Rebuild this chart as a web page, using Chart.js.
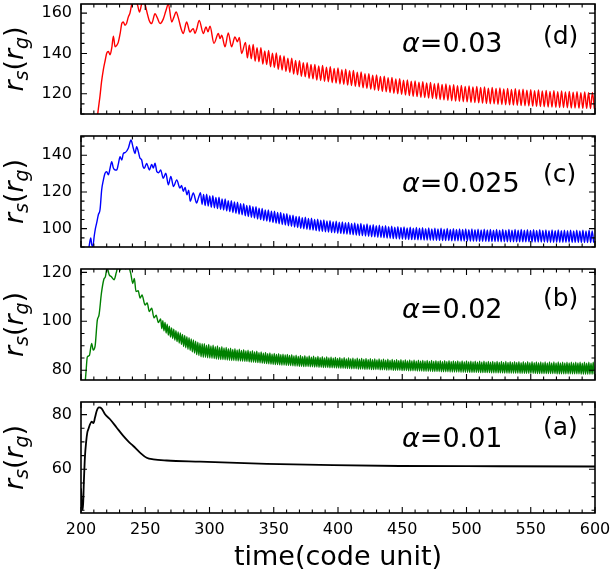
<!DOCTYPE html>
<html>
<head>
<meta charset="utf-8">
<script src="https://cdn.jsdelivr.net/npm/chart.js@4.4.1/dist/chart.umd.min.js"></script>
<style>
  html, body { margin: 0; padding: 0; background: #fff; }
  #wrap { position: relative; width: 610px; height: 573px; }
  #wrap canvas { position: absolute; left: 0; top: 0; }
</style>
</head>
<body>
<div id="wrap">
  <canvas id="panel-d" width="610" height="573"></canvas>
  <canvas id="panel-c" width="610" height="573"></canvas>
  <canvas id="panel-b" width="610" height="573"></canvas>
  <canvas id="panel-a" width="610" height="573"></canvas>
</div>
<script>
// shared time axis
const timeTicks = [200, 250, 300, 350, 400, 450, 500, 550, 600];

// (d) alpha = 0.03 : irregular rise, then regular oscillation (peak / trough per cycle)
const redRise = [
  [212, 104], [213.2, 111], [214.8, 119], [216, 126], [217.4, 132], [218.8, 136.5], [220, 140.1], [221.3, 141],
  [222.6, 139.3], [224, 143], [225.2, 148.6], [226.5, 143.3], [227.8, 144], [229, 145.5], [230.5, 150], [231.8, 155],
  [232.9, 155.6], [234.2, 154], [235.5, 155], [236.8, 158], [238.1, 160], [239.4, 164], [241, 167], [242.5, 166],
  [244, 164], [245.5, 160.5], [247, 164], [248.5, 167], [250, 164], [251.5, 160], [253, 156.5], [255, 154.8],
  [257.6, 159.7], [259.5, 157.5], [261.5, 154.8], [264, 157], [266, 161], [268, 164.5], [270.6, 155.6], [272.3, 158],
  [274, 160.5], [276, 157], [277.8, 152.5], [279.6, 149.9], [282.2, 155.6], [284.8, 150.6], [286, 151.5], [287.4, 152.3],
  [288.7, 149.9], [290, 152], [292, 156.4], [295.2, 149.9], [297.3, 153.1], [298.8, 150.7], [300.4, 153.5], [303.5, 145],
  [306.9, 149.9], [308.2, 147.4], [309.5, 149], [312.1, 143.3], [314.6, 150.2], [317.2, 143.3], [319.8, 148.2],
  [321.7, 145.8], [323.2, 147.9], [325, 140]
];
const redStart = 328;
const redPeriod = 3.0;
const redPeaks = [
  145.5, 144.2, 144.4, 142.9, 142.8, 141.3, 141.5, 140.1, 140.2, 139.0,
  138.8, 137.7, 137.6, 136.5, 136.4, 135.4, 135.4, 134.5, 134.6, 133.8,
  134.0, 133.2, 133.4, 132.6, 132.8, 132.0, 132.2, 131.4, 131.6, 130.7,
  130.8, 130.0, 130.0, 129.2, 129.3, 128.6, 128.7, 128.0, 128.1, 127.4,
  127.5, 126.8, 126.9, 126.3, 126.4, 125.8, 126.0, 125.4, 125.6, 125.0,
  125.2, 124.7, 124.9, 124.3, 124.5, 124.0, 124.2, 123.7, 123.9, 123.4,
  123.7, 123.1, 123.4, 122.8, 123.1, 122.6, 122.9, 122.4, 122.7, 122.2,
  122.5, 122.0, 122.3, 121.8, 122.1, 121.6, 121.9, 121.4, 121.7, 121.2,
  121.5, 121.1, 121.4, 120.9, 121.2, 120.8, 121.1, 120.6, 120.9, 120.5, 120.7
];
const redTroughs = [
  137.8, 137.3, 136.2, 135.9, 134.8, 134.5, 133.4, 133.1, 132.2, 131.8,
  131.1, 130.6, 129.8, 129.4, 128.7, 128.4, 127.7, 127.4, 126.8, 126.6,
  126.2, 126.0, 125.5, 125.3, 124.9, 124.7, 124.3, 124.1, 123.7, 123.5,
  123.0, 122.7, 122.3, 121.9, 121.6, 121.2, 121.0, 120.6, 120.3, 120.0,
  119.7, 119.4, 119.1, 118.8, 118.6, 118.3, 118.1, 117.9, 117.7, 117.5,
  117.2, 117.0, 116.8, 116.6, 116.4, 116.3, 116.1, 116.0, 115.8, 115.7,
  115.5, 115.4, 115.2, 115.1, 115.0, 114.8, 114.7, 114.6, 114.5, 114.4,
  114.3, 114.2, 114.1, 114.0, 113.9, 113.8, 113.7, 113.6, 113.5, 113.4,
  113.3, 113.2, 113.2, 113.1, 113.0, 113.0, 112.9, 112.8, 112.8, 112.7, 112.7
];
const redTicks = [120, 140, 160];

// (c) alpha = 0.025
const blueRise = [
  [205.8, 88], [206.8, 92.5], [207.6, 95], [208.3, 91.5], [209.2, 90.3], [210.3, 96], [211.2, 100], [212.2, 103.1],
  [213.5, 107.6], [214.8, 110.3], [216.1, 121.2], [217.4, 126.5], [218.7, 130.2], [220, 131.1], [221.3, 129.3],
  [222.5, 132.5], [223.9, 136.5], [225.2, 133], [226.5, 132], [227.8, 132], [229, 135], [230.4, 139.2], [231.7, 137.4],
  [233, 141], [234.5, 141.5], [236.8, 143.8], [238.9, 148.3], [240.7, 143.8], [242, 141], [243.3, 144.7], [244.6, 142],
  [245.9, 138.4], [247.2, 137.5], [248.2, 134], [249.3, 132.9], [251.1, 135.6], [253.2, 132], [255, 135], [256.3, 133],
  [257.6, 135.7], [259, 131.1], [260.5, 130.5], [262, 132], [264, 127.5], [266, 130.2], [268, 123.9], [269.9, 128.4],
  [272, 123], [274.5, 126.6], [277, 122.1], [278.3, 123.5], [279.6, 120.3], [281, 122.5], [282.5, 118.5], [283.8, 121],
  [285, 114.9], [287.4, 119.4], [290, 114], [291.5, 117]
];
const blueStart = 293;
const bluePeriod = 2.4;
const bluePeaks = [
  119.6, 118.7, 118.8, 117.8, 117.9, 117.0, 117.1, 116.2, 116.2, 115.3,
  115.3, 114.5, 114.4, 113.6, 113.6, 112.7, 112.7, 111.9, 111.9, 111.1,
  111.0, 110.2, 110.2, 109.5, 109.5, 108.8, 108.8, 108.1, 108.1, 107.4,
  107.4, 106.7, 106.7, 106.0, 106.2, 105.5, 105.7, 105.0, 105.2, 104.6,
  104.8, 104.2, 104.4, 103.8, 104.1, 103.5, 103.7, 103.2, 103.4, 102.8,
  103.1, 102.5, 102.8, 102.2, 102.5, 101.9, 102.2, 101.6, 101.9, 101.3,
  101.6, 101.1, 101.4, 100.8, 101.1, 100.6, 100.9, 100.4, 100.8, 100.3,
  100.6, 100.2, 100.5, 100.0, 100.4, 99.9, 100.3, 99.8, 100.2, 99.7,
  100.1, 99.6, 100.0, 99.6, 99.9, 99.5, 99.9, 99.4, 99.8, 99.4,
  99.7, 99.3, 99.7, 99.3, 99.6, 99.2, 99.6, 99.2, 99.6, 99.2,
  99.5, 99.1, 99.5, 99.1, 99.5, 99.1, 99.4, 99.0, 99.4, 99.0,
  99.4, 99.0, 99.3, 98.9, 99.3, 98.9, 99.3, 98.9, 99.2, 98.9,
  99.2, 98.8, 99.2, 98.8, 99.1, 98.8, 99.1, 98.8
];
const blueTroughs = [
  113.2, 112.6, 112.3, 111.7, 111.4, 110.9, 110.6, 110.1, 109.7, 109.3,
  108.8, 108.4, 107.9, 107.5, 107.0, 106.6, 106.2, 105.8, 105.3, 104.9,
  104.4, 104.1, 103.7, 103.4, 103.0, 102.7, 102.3, 102.0, 101.6, 101.3,
  100.9, 100.6, 100.2, 99.9, 99.7, 99.4, 99.2, 98.9, 98.7, 98.5,
  98.3, 98.1, 97.9, 97.7, 97.5, 97.4, 97.2, 97.0, 96.9, 96.7,
  96.5, 96.3, 96.2, 96.0, 95.8, 95.6, 95.5, 95.3, 95.2, 95.0,
  94.9, 94.8, 94.6, 94.5, 94.4, 94.3, 94.2, 94.1, 94.0, 94.0,
  93.9, 93.9, 93.8, 93.8, 93.7, 93.7, 93.6, 93.6, 93.5, 93.5,
  93.5, 93.4, 93.4, 93.4, 93.3, 93.3, 93.3, 93.2, 93.2, 93.2,
  93.1, 93.1, 93.1, 93.0, 93.0, 93.0, 93.0, 92.9, 92.9, 92.9,
  92.9, 92.9, 92.8, 92.8, 92.8, 92.8, 92.8, 92.7, 92.7, 92.7,
  92.7, 92.7, 92.6, 92.6, 92.6, 92.6, 92.6, 92.6, 92.5, 92.5,
  92.5, 92.5, 92.5, 92.5, 92.4, 92.4, 92.4, 92.4
];
const blueTicks = [100, 120, 140];

// (b) alpha = 0.02
const greenRise = [
  [202.5, 70], [204, 80], [204.9, 85.4], [206.5, 86], [208.3, 91], [209.5, 88.3], [211, 90], [212.7, 100.5],
  [214, 102.5], [215.9, 111.5], [217.7, 117], [219, 118.3], [220.3, 121.8], [222, 119], [223.5, 118.3], [225.7, 117],
  [227.5, 120], [228.8, 122.5], [230.5, 121], [232, 122.5], [234.8, 121.5], [236.8, 122.5], [238.7, 119.6],
  [240.3, 115.5], [241.5, 117.5], [242.8, 112.2], [244.5, 112.5], [246, 109.5], [247.5, 110.8], [249.8, 106.7],
  [251.5, 107.5], [253.2, 104], [255, 105.4], [256.8, 101.4], [258.5, 102.5], [260.2, 99.5]
];
const greenStart = 262;
const greenPeriod = 1.7;
const greenPeaks = [
  101.0, 100.3, 99.5, 98.8, 98.0, 97.3, 96.8, 96.2, 95.7, 95.2,
  94.6, 94.2, 93.7, 93.3, 92.8, 92.4, 91.9, 91.5, 91.1, 90.8,
  90.8, 90.2, 90.5, 89.9, 90.2, 89.6, 89.9, 89.3, 89.6, 89.1,
  89.3, 88.8, 89.0, 88.5, 88.8, 88.3, 88.6, 88.1, 88.4, 87.9,
  88.2, 87.7, 88.0, 87.5, 87.8, 87.2, 87.5, 87.0, 87.3, 86.8,
  87.1, 86.6, 86.9, 86.5, 86.8, 86.3, 86.6, 86.2, 86.5, 86.0,
  86.3, 85.8, 86.1, 85.6, 86.0, 85.5, 85.9, 85.4, 85.8, 85.3,
  85.7, 85.2, 85.6, 85.1, 85.5, 85.0, 85.4, 85.0, 85.3, 84.9,
  85.2, 84.8, 85.1, 84.7, 85.1, 84.6, 85.0, 84.6, 84.9, 84.5,
  84.9, 84.5, 84.8, 84.4, 84.8, 84.3, 84.7, 84.3, 84.6, 84.2,
  84.6, 84.2, 84.5, 84.1, 84.5, 84.0, 84.4, 84.0, 84.3, 83.9,
  84.3, 83.9, 84.2, 83.8, 84.2, 83.8, 84.1, 83.7, 84.1, 83.7,
  84.0, 83.7, 84.0, 83.6, 84.0, 83.6, 83.9, 83.6, 83.9, 83.5,
  83.9, 83.5, 83.9, 83.5, 83.8, 83.5, 83.8, 83.4, 83.8, 83.4,
  83.8, 83.4, 83.7, 83.4, 83.7, 83.3, 83.7, 83.3, 83.7, 83.3,
  83.6, 83.3, 83.6, 83.3, 83.6, 83.2, 83.6, 83.2, 83.6, 83.2,
  83.5, 83.2, 83.5, 83.2, 83.5, 83.1, 83.5, 83.1, 83.5, 83.1,
  83.5, 83.1, 83.4, 83.1, 83.4, 83.1, 83.4, 83.0, 83.4, 83.0,
  83.4, 83.0, 83.4, 83.0, 83.3, 83.0, 83.3, 83.0, 83.3, 83.0,
  83.3, 83.0, 83.3, 82.9, 83.3, 82.9, 83.3, 82.9, 83.3
];
const greenTroughs = [
  97.0, 96.1, 95.2, 94.4, 93.6, 93.0, 92.3, 91.7, 91.1, 90.6,
  89.7, 89.2, 88.6, 88.1, 87.5, 87.0, 86.4, 86.0, 85.5, 85.3,
  85.3, 85.1, 85.0, 84.9, 84.8, 84.6, 84.5, 84.4, 84.4, 84.3,
  84.2, 84.1, 84.0, 84.0, 83.9, 83.8, 83.8, 83.7, 83.6, 83.6,
  83.4, 83.3, 83.3, 83.2, 83.1, 83.0, 82.9, 82.8, 82.7, 82.6,
  82.5, 82.4, 82.3, 82.3, 82.2, 82.1, 82.1, 82.0, 82.0, 81.9,
  81.8, 81.7, 81.7, 81.6, 81.6, 81.5, 81.5, 81.5, 81.4, 81.4,
  81.3, 81.3, 81.2, 81.2, 81.1, 81.1, 81.1, 81.0, 81.0, 81.0,
  80.9, 80.9, 80.8, 80.8, 80.8, 80.7, 80.7, 80.6, 80.6, 80.6,
  80.5, 80.5, 80.5, 80.4, 80.4, 80.4, 80.3, 80.3, 80.3, 80.3,
  80.2, 80.2, 80.2, 80.1, 80.1, 80.1, 80.0, 80.0, 80.0, 80.0,
  79.9, 79.9, 79.9, 79.8, 79.8, 79.8, 79.8, 79.7, 79.7, 79.7,
  79.6, 79.6, 79.6, 79.6, 79.5, 79.5, 79.5, 79.5, 79.4, 79.4,
  79.4, 79.4, 79.3, 79.3, 79.3, 79.3, 79.3, 79.2, 79.2, 79.2,
  79.2, 79.1, 79.1, 79.1, 79.1, 79.1, 79.0, 79.0, 79.0, 79.0,
  79.0, 78.9, 78.9, 78.9, 78.9, 78.9, 78.9, 78.8, 78.8, 78.8,
  78.8, 78.8, 78.8, 78.8, 78.7, 78.7, 78.7, 78.7, 78.7, 78.7,
  78.7, 78.7, 78.6, 78.6, 78.6, 78.6, 78.6, 78.6, 78.6, 78.6,
  78.6, 78.5, 78.5, 78.5, 78.5, 78.5, 78.5, 78.5, 78.5, 78.5,
  78.5, 78.5, 78.4, 78.4, 78.4, 78.4, 78.4, 78.4, 78.4
];
const greenTicks = [80, 100, 120];

// (a) alpha = 0.01 : smooth, no oscillation
const blackCurve = [
  [200, 53], [200.8, 46], [201.5, 45.2], [202.2, 55], [203.1, 64.8], [204, 70], [204.9, 73.4], [205.7, 74.6],
  [207, 76.4], [208.3, 77.4], [209.7, 76.9], [210.9, 78.9], [212.2, 81.3], [214, 82.6], [216.1, 82.2], [218.7, 80.1],
  [222.6, 78.3], [227.8, 75.2], [232.9, 72.2], [236.8, 70.2], [240.7, 68.5], [245.9, 66.1], [251.1, 64.2],
  [256.3, 63.6], [266.7, 63.2], [292.6, 62.8], [344.5, 62.0], [396.3, 61.5], [448, 61.2], [526, 61.1], [600, 61.0]
];
const blackTicks = [60, 80];

function buildSeries(rise, start, period, peaks, troughs) {
  const pts = rise.map(([t, r]) => ({ x: t, y: r }));
  peaks.forEach((p, k) => {
    pts.push({ x: start + k * period, y: p });
    if (k < troughs.length) pts.push({ x: start + (k + 0.5) * period, y: troughs[k] });
  });
  return pts;
}

const FONT = '"DejaVu Sans"';
const X_AXIS_BAND = 40; // room under the bottom panel for the time tick labels

// y label r_s(r_g), drawn rotated with italic letters and subscripts
function drawYTitle(ctx, cx, cy) {
  const parts = [
    { t: 'r', font: 'italic 27px ' + FONT, dy: 0 },
    { t: 's', font: 'italic 19px ' + FONT, dy: 5 },
    { t: '(', font: '27px ' + FONT, dy: 0 },
    { t: 'r', font: 'italic 27px ' + FONT, dy: 0 },
    { t: 'g', font: 'italic 19px ' + FONT, dy: 5 },
    { t: ')', font: '27px ' + FONT, dy: 0 }
  ];
  let total = 0;
  parts.forEach(p => { ctx.font = p.font; p.w = ctx.measureText(p.t).width; total += p.w; });
  ctx.save();
  ctx.translate(cx, cy);
  ctx.rotate(-Math.PI / 2);
  ctx.textBaseline = 'alphabetic';
  ctx.textAlign = 'left';
  let xx = -total / 2;
  parts.forEach(p => { ctx.font = p.font; ctx.fillText(p.t, xx, p.dy); xx += p.w; });
  ctx.restore();
}

// frame, inward ticks on all sides and the panel annotations
const framePlugin = {
  id: 'frame',
  afterDraw(chart, args, opts) {
    const { ctx, chartArea: a } = chart;
    const xs = chart.scales.x, ys = chart.scales.y;
    ctx.save();
    ctx.strokeStyle = '#000';
    ctx.lineWidth = 1.1;
    ctx.beginPath();
    for (let v = 200; v <= 600; v += 10) {
      const px = xs.getPixelForValue(v);
      const len = v % 50 === 0 ? 6 : 3.5;
      ctx.moveTo(px, a.bottom); ctx.lineTo(px, a.bottom - len);
      ctx.moveTo(px, a.top); ctx.lineTo(px, a.top + len);
    }
    for (let v = Math.ceil(ys.min / 5) * 5; v <= ys.max; v += 5) {
      const py = ys.getPixelForValue(v);
      const len = v % 20 === 0 ? 6 : 3.5;
      ctx.moveTo(a.left, py); ctx.lineTo(a.left + len, py);
      ctx.moveTo(a.right, py); ctx.lineTo(a.right - len, py);
    }
    ctx.stroke();
    ctx.lineWidth = 1.6;
    ctx.strokeRect(a.left, a.top, a.right - a.left, a.bottom - a.top);

    ctx.fillStyle = '#000';
    ctx.textBaseline = 'alphabetic';
    ctx.textAlign = 'left';
    // alpha value
    ctx.font = 'italic 27px ' + FONT;
    ctx.fillText('\u03b1', 402, opts.alphaY);
    const aw = ctx.measureText('\u03b1').width;
    ctx.font = '27px ' + FONT;
    ctx.fillText('=' + opts.alpha, 402 + aw, opts.alphaY);
    // panel tag
    ctx.font = '25px ' + FONT;
    ctx.fillText(opts.tag, 543, opts.tagY);

    drawYTitle(ctx, 23, (a.top + a.bottom) / 2);

    if (opts.xTitle) {
      ctx.font = '27px ' + FONT;
      ctx.textAlign = 'center';
      ctx.fillText(opts.xTitle, (a.left + a.right) / 2, 565);
    }
    ctx.restore();
  }
};

function makePanel(p) {
  const ctx = document.getElementById(p.id).getContext('2d');
  const band = p.xTitle ? X_AXIS_BAND : 0;
  return new Chart(ctx, {
    type: 'line',
    data: {
      datasets: [{
        data: p.points,
        borderColor: p.color,
        borderWidth: p.lineWidth,
        pointRadius: 0,
        cubicInterpolationMode: 'monotone',
        fill: false
      }]
    },
    options: {
      responsive: false,
      animation: false,
      events: [],
      layout: { padding: { left: 0, right: 15, top: p.top, bottom: 573 - p.bottom - band } },
      plugins: {
        legend: { display: false },
        tooltip: { enabled: false },
        frame: { alpha: p.alpha, tag: p.tag, alphaY: p.alphaY, tagY: p.tagY, xTitle: p.xTitle }
      },
      scales: {
        x: {
          type: 'linear',
          min: 200,
          max: 600,
          grid: { display: false, drawTicks: false },
          border: { display: false },
          afterBuildTicks: s => { s.ticks = timeTicks.map(v => ({ value: v })); },
          afterFit: s => { s.height = band; s.paddingLeft = 0; s.paddingRight = 0; },
          ticks: {
            display: !!p.xTitle,
            autoSkip: false,
            maxRotation: 0,
            minRotation: 0,
            padding: 7,
            color: '#000',
            font: { family: 'DejaVu Sans', size: 16 }
          }
        },
        y: {
          type: 'linear',
          min: p.yMin,
          max: p.yMax,
          grid: { display: false, drawTicks: false },
          border: { display: false },
          afterBuildTicks: s => { s.ticks = p.yTicks.map(v => ({ value: v })); },
          afterFit: s => { s.width = 81; s.paddingTop = 0; s.paddingBottom = 0; },
          ticks: {
            padding: 9,
            color: '#000',
            font: { family: 'DejaVu Sans', size: 16 }
          }
        }
      }
    },
    plugins: [framePlugin]
  });
}

const panels = [
  { id: 'panel-d', color: '#ff0000', lineWidth: 1.4, top: 4, bottom: 114, yMin: 110, yMax: 164.5, yTicks: redTicks,
    points: buildSeries(redRise, redStart, redPeriod, redPeaks, redTroughs),
    alpha: '0.03', tag: '(d)', alphaY: 52, tagY: 43.5 },
  { id: 'panel-c', color: '#0000ff', lineWidth: 1.4, top: 136, bottom: 247, yMin: 90, yMax: 150.5, yTicks: blueTicks,
    points: buildSeries(blueRise, blueStart, bluePeriod, bluePeaks, blueTroughs),
    alpha: '0.025', tag: '(c)', alphaY: 191.5, tagY: 182 },
  { id: 'panel-b', color: '#008000', lineWidth: 1.4, top: 269, bottom: 380, yMin: 76, yMax: 121.4, yTicks: greenTicks,
    points: buildSeries(greenRise, greenStart, greenPeriod, greenPeaks, greenTroughs),
    alpha: '0.02', tag: '(b)', alphaY: 318, tagY: 306 },
  { id: 'panel-a', color: '#000000', lineWidth: 1.8, top: 402, bottom: 513, yMin: 44, yMax: 84.6, yTicks: blackTicks,
    points: buildSeries(blackCurve, 0, 0, [], []),
    alpha: '0.01', tag: '(a)', alphaY: 446.5, tagY: 435, xTitle: 'time(code unit)' }
];

panels.forEach(makePanel);
</script>
</body>
</html>
